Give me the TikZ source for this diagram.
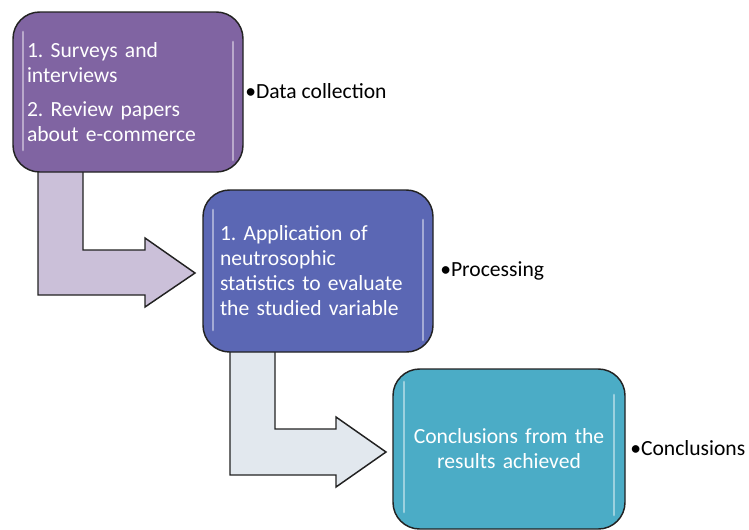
\documentclass[tikz,border=0pt]{standalone}
\usepackage{fontspec}
\setmainfont{Carlito}
\frenchspacing
\definecolor{boxA}{HTML}{8064A2}
\definecolor{boxB}{HTML}{5B67B4}
\definecolor{boxC}{HTML}{4BACC6}
\definecolor{arrA}{HTML}{CBC0D9}
\definecolor{arrB}{HTML}{E2E8EE}
\definecolor{edge}{HTML}{222222}
\begin{document}
\begin{tikzpicture}[x=0.75pt,y=-0.75pt,
  stepbox/.style={draw=edge, line width=1.1pt, rounded corners=20pt, text=white,
    font=\fontsize{16.2}{18.75}\selectfont\frenchspacing, inner ysep=0pt},
  blockarrow/.style={draw=edge, line width=1.1pt, line join=miter},
  gloss/.style={white, opacity=0.45, line width=2.2pt, line cap=round},
  side/.style={font=\fontsize{16.2}{18.75}\selectfont, text=black, inner sep=0pt, anchor=base west}]
\useasboundingbox (0,0) rectangle (749,529);
% block arrows
\draw[blockarrow, fill=arrA] (38,168) -- (83,168) -- (83,250) -- (145,250) -- (145,238)
  -- (195,273) -- (145,307) -- (145,295) -- (38,295) -- cycle;
\draw[blockarrow, fill=arrB] (230,348) -- (275,348) -- (275,429) -- (336,429) -- (336,417)
  -- (386,452) -- (336,487) -- (336,475) -- (230,475) -- cycle;
% boxes
\node[stepbox, fill=boxA, minimum width=172.5pt, minimum height=120pt, inner xsep=10.5pt,
  text width=151.5pt, align=left] (b1) at (128,92)
  {1. Surveys and\\interviews\\[6.75pt]2. Review papers\\about e-commerce};
\node[stepbox, fill=boxB, minimum width=172.5pt, minimum height=121.5pt, inner xsep=12.75pt,
  text width=147pt, align=left] (b2) at (318,271)
  {1. Application of\\neutrosophic\\statistics to evaluate\\the studied variable};
\node[stepbox, fill=boxC, minimum width=174pt, minimum height=120pt, inner xsep=12pt,
  text width=150pt, align=center] (b3) at (509,449)
  {Conclusions from the\\results achieved};
% gloss highlights
\draw[gloss] (23,32) -- (23,150);
\draw[gloss] (233,42) -- (233,160);
\draw[gloss] (213,210) -- (213,330);
\draw[gloss] (423,220) -- (423,340);
\draw[gloss] (404,382) -- (404,512);
\draw[gloss] (614,395) -- (614,515);
% side labels
\node[side] (l1) at (245,98) {•Data collection};
\node[side] (l2) at (440,276) {•Processing};
\node[side] (l3) at (630,455) {•Conclusions};
\end{tikzpicture}
\end{document}
